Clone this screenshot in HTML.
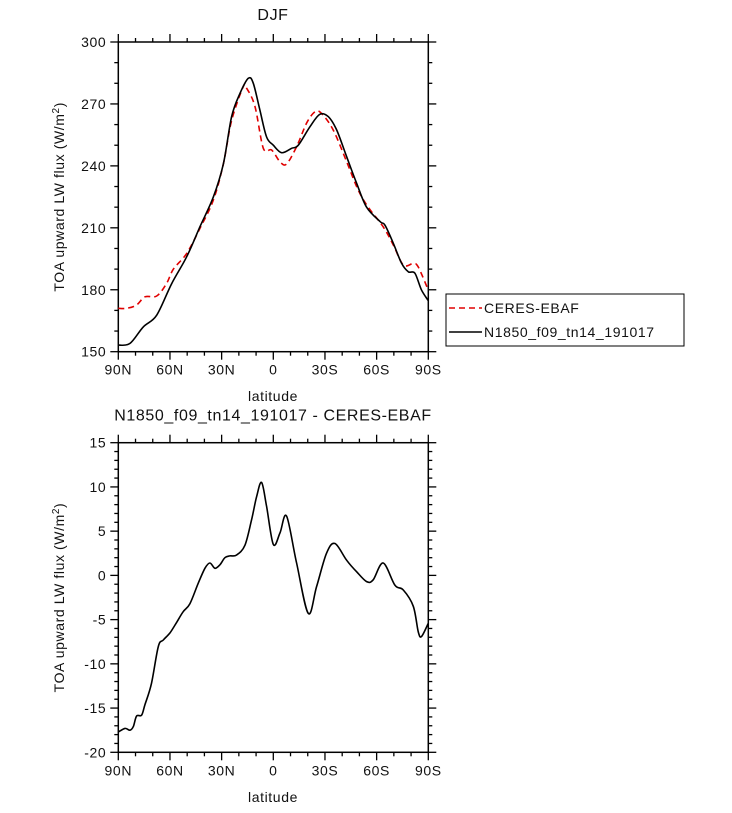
<!DOCTYPE html>
<html><head><meta charset="utf-8"><style>
body{margin:0;background:#fff}
svg text{font-family:"Liberation Sans",sans-serif;fill:#111;letter-spacing:0.6px}
</style></head><body>
<svg id="c" width="732" height="808" xmlns="http://www.w3.org/2000/svg"></svg>
<script>
const latTicks=[90,60,30,0,-30,-60,-90];
const latLabels=["90N","60N","30N","0","30S","60S","90S"];
const topYTicks=[150,180,210,240,270,300];
const botYTicks=[-20,-15,-10,-5,0,5,10,15];
const modelLat=[90,83.2,75.5,67.7,59,50.3,42.6,34.8,29,24.2,19.4,14.5,11.6,7.8,3.9,0,-4.8,-10.6,-14.5,-21.3,-27,-32,-36.8,-42.6,-48.4,-54.2,-62,-64.8,-69.7,-74.5,-78.4,-82.2,-86,-90];
const modelVal=[153.2,154,162,167.7,183,196,210.5,225,241,263.8,275,282.4,280,267,254,250,246.4,248.5,250,259,265,263.8,257.4,244.4,231.5,220,213,211.3,202.5,192.8,188.7,188,180,174.7];
const obsLat=[90,85.2,79.4,74.5,67.7,62,58,50.3,42.6,34.8,29,24.2,17.4,15.5,10.6,5.8,1,-3.9,-7.7,-13.5,-19.3,-24.2,-28,-34.8,-42.6,-49.3,-55.1,-63.8,-69.7,-75.5,-81.3,-84.2,-90];
const obsVal=[171,171,172.6,176.6,177,183,190,197.6,209.7,223.5,241,262,278.4,277.6,268.7,248.5,247.7,242,240.9,249.3,260.6,266.2,265.4,257.4,242,228.3,220,210.5,201.7,192,192.7,191,179.8];
const diffLat=[90,86.1,83.2,81.3,79.4,76.5,74.5,70.7,66.8,63.9,60,56.1,52.3,48.4,43.6,39.7,36.8,33.9,31,28.1,25.2,21.3,16.5,12.6,9.7,6.8,3.9,0,-3.9,-7.7,-13.5,-20.3,-25.1,-30.9,-35.8,-42.6,-48.4,-54.2,-58,-63.8,-70.6,-75.5,-81.3,-84.2,-86.1,-90];
const diffVal=[-17.7,-17.3,-17.5,-17.1,-15.9,-15.8,-14.6,-12.2,-8.05,-7.3,-6.5,-5.3,-4.1,-3.2,-0.9,0.8,1.4,0.8,1.2,2,2.2,2.3,3.4,6.3,8.9,10.5,7.8,3.5,4.8,6.7,1.4,-4.3,-1.3,2.5,3.6,1.7,0.4,-0.7,-0.5,1.4,-1.1,-1.65,-3.5,-6.4,-6.9,-5.4];

const svg=document.getElementById('c');
const NS="http://www.w3.org/2000/svg";
function el(tag,attrs,parent){const e=document.createElementNS(NS,tag);for(const k in attrs)e.setAttribute(k,attrs[k]);(parent||svg).appendChild(e);return e;}
const X0=118.3,X1=428.3;
function xs(lat){return X0+(90-lat)/180*(X1-X0);}

function panel(name,top,bottom,ymin,ymax,yticks,ystep,minorStep,title,xlabY){
  const g=el('g',{});
  
  
  const ys=v=>bottom-(v-ymin)/(ymax-ymin)*(bottom-top);
  for(let l=90;l>=-90;l-=10){const x=xs(l);const maj=(l%30===0);const L=maj?8:4;
    el('line',{x1:x,y1:bottom,x2:x,y2:bottom+L,stroke:'#000','stroke-width':1.3},g);
    el('line',{x1:x,y1:top,x2:x,y2:top-L,stroke:'#000','stroke-width':1.3},g);}
  for(let v=ymin;v<=ymax+1e-9;v+=minorStep){const y=ys(v);const maj=Math.abs((v-ymin)%ystep)<1e-6;const L=maj?8:4;
    el('line',{x1:X0,y1:y,x2:X0-L,y2:y,stroke:'#000','stroke-width':1.3},g);
    el('line',{x1:X1,y1:y,x2:X1+L,y2:y,stroke:'#000','stroke-width':1.3},g);}
  el('rect',{x:X0,y:top,width:X1-X0,height:bottom-top,fill:'none',stroke:'#000','stroke-width':1.5},g);
  latTicks.forEach((l,i)=>{const t=el('text',{x:xs(l),y:bottom+23,'text-anchor':'middle','font-size':14},g);t.textContent=latLabels[i];
    
    });
  yticks.forEach(v=>{const t=el('text',{x:X0-12,y:ys(v)+5,'text-anchor':'end','font-size':14},g);t.textContent=v;
    
    });
  const xl=el('text',{x:273,y:xlabY,'text-anchor':'middle','font-size':14},g);xl.textContent='latitude';
  
  
  const cy=(top+bottom)/2;
  const yt=el('text',{x:0,y:0,'text-anchor':'middle','font-size':14,transform:`translate(64,${cy}) rotate(-90)`},g);
  yt.innerHTML='TOA upward LW flux (W/m<tspan dy="-5" font-size="10">2</tspan><tspan dy="5">)</tspan>';
  
  
  const tt=el('text',{x:273,y:top-22,'text-anchor':'middle','font-size':16},g);tt.textContent=title;
  
  
  return {g,ys};
}
function line(g,ys,lats,vals,color,dash,name){
  const P=lats.map((l,i)=>[xs(l),ys(vals[i])]);
  let d='M'+P[0][0].toFixed(1)+','+P[0][1].toFixed(1);
  for(let i=0;i<P.length-1;i++){
    const p0=P[Math.max(0,i-1)],p1=P[i],p2=P[i+1],p3=P[Math.min(P.length-1,i+2)];
    const c1=[p1[0]+(p2[0]-p0[0])/6,p1[1]+(p2[1]-p0[1])/6];
    const c2=[p2[0]-(p3[0]-p1[0])/6,p2[1]-(p3[1]-p1[1])/6];
    d+=` C${c1[0].toFixed(1)},${c1[1].toFixed(1)} ${c2[0].toFixed(1)},${c2[1].toFixed(1)} ${p2[0].toFixed(1)},${p2[1].toFixed(1)}`;
  }
  const p=el('path',{d:d,fill:'none',stroke:color,'stroke-width':1.6,'stroke-dasharray':dash||'none','stroke-linejoin':'round'},g);
  
  
}
const p1=panel('top-panel',42,351.7,150,300,topYTicks,30,10,'DJF',401);
line(p1.g,p1.ys,obsLat,obsVal,'#e00000','6,4','ceres-ebaf-line');
line(p1.g,p1.ys,modelLat,modelVal,'#000',null,'model-line');
const p2=panel('bottom-panel',442.7,752.3,-20,15,botYTicks,5,1,'N1850_f09_tn14_191017 - CERES-EBAF',802);
line(p2.g,p2.ys,diffLat,diffVal,'#000',null,'difference-line');
const lg=el('g',{});


el('rect',{x:446,y:294,width:238,height:52,fill:'#fff',stroke:'#000','stroke-width':1},lg);
el('line',{x1:449,y1:308,x2:482,y2:308,stroke:'#e00000','stroke-width':1.6,'stroke-dasharray':'6,4'},lg);
const l1=el('text',{x:484,y:313,'font-size':14},lg);l1.textContent='CERES-EBAF';


el('line',{x1:449,y1:332,x2:482,y2:332,stroke:'#000','stroke-width':1.6},lg);
const l2=el('text',{x:484,y:337,'font-size':14},lg);l2.textContent='N1850_f09_tn14_191017';


</script>
</body></html>
